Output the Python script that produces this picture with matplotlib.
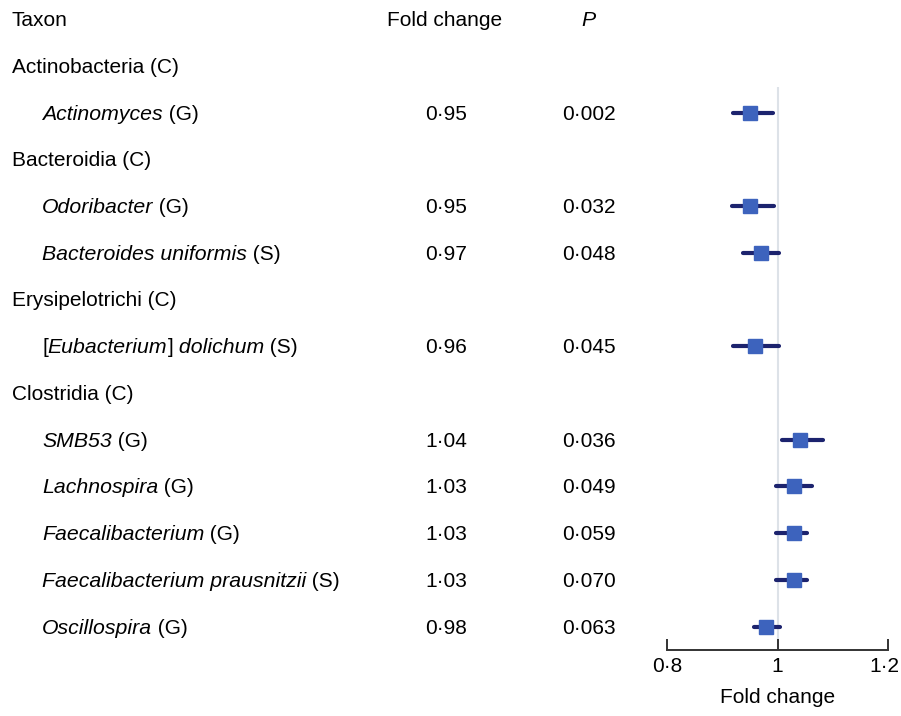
import matplotlib
matplotlib.use("Agg")
import matplotlib.pyplot as plt
from matplotlib.transforms import blended_transform_factory, ScaledTranslation

plt.rcParams['font.family'] = ['Liberation Sans', 'DejaVu Sans']

# class name, then the taxa belonging to it
classes = ["Actinobacteria (C)", "Bacteroidia (C)", "Erysipelotrichi (C)", "Clostridia (C)"]
class_of = [0, 1, 1, 2, 3, 3, 3, 3, 3]
# (text, italic) pieces for each taxon label
taxa = [
    [("Actinomyces", True), (" (G)", False)],
    [("Odoribacter", True), (" (G)", False)],
    [("Bacteroides uniformis", True), (" (S)", False)],
    [("[", False), ("Eubacterium", True), ("]", False), (" dolichum", True), (" (S)", False)],
    [("SMB53", True), (" (G)", False)],
    [("Lachnospira", True), (" (G)", False)],
    [("Faecalibacterium", True), (" (G)", False)],
    [("Faecalibacterium prausnitzii", True), (" (S)", False)],
    [("Oscillospira", True), (" (G)", False)],
]
fold = [0.95, 0.95, 0.97, 0.96, 1.04, 1.03, 1.03, 1.03, 0.98]
p_vals = ["0·002", "0·032", "0·048", "0·045", "0·036", "0·049", "0·059", "0·070", "0·063"]
ci_low = [0.919, 0.918, 0.937, 0.919, 1.008, 0.998, 0.998, 0.998, 0.958]
ci_high = [0.991, 0.993, 1.002, 1.002, 1.083, 1.063, 1.054, 1.054, 1.004]
ticks = [0.8, 1.0, 1.2]
tick_labels = ["0·8", "1", "1·2"]

W, H = 901, 716
fs = 15.0
fs_it = 15.3
fig = plt.figure(figsize=(W / 100, H / 100), dpi=100)
ax = fig.add_axes([667 / W, 1 - 650 / H, (888 - 667) / W, 650 / H])

# build row positions: header row 0, class rows and taxon rows after
rows_taxa = []
rows_class = []
r = 1
prev = -1
for i, c in enumerate(class_of):
    if c != prev:
        rows_class.append(r)
        r += 1
        prev = c
    rows_taxa.append(r)
    r += 1

ax.set_xlim(0.8, 1.2)
ax.set_ylim(13.5, -0.407)

for s in ["top", "right", "left"]:
    ax.spines[s].set_visible(False)
ax.spines["bottom"].set_color("#333333")
ax.spines["bottom"].set_linewidth(1.4)
ax.set_yticks([])
ax.set_xticks(ticks)
ax.set_xticklabels(tick_labels, fontsize=fs)
ax.tick_params(axis="x", direction="in", length=8, width=1.4, color="#333333", pad=5)
ax.set_xlabel("Fold change", fontsize=fs, labelpad=9)
# last tick label sits on the right edge, nudge it in a bit
last = ax.get_xticklabels()[-1]
last.set_transform(last.get_transform() + ScaledTranslation(-4 / 100, 0, fig.dpi_scale_trans))

ax.vlines(1.0, 1.45, 13.5, color="#dde2e8", linewidth=1.5, zorder=1)

ax.hlines(rows_taxa, ci_low, ci_high, color="#1c236e", linewidth=3,
          capstyle="round", zorder=2)
ax.plot(fold, rows_taxa, "s", color="#3d63bd", markersize=10, zorder=3,
        linestyle="none")

tr = blended_transform_factory(fig.transFigure, ax.transData)
# baseline offset so the text is centred on its row
base = 0.15
renderer = fig.canvas.get_renderer()


def label(x_px, row, s, size=fs, **kw):
    return ax.text(x_px / W, row + base, s, transform=tr, fontsize=size,
                   va="baseline", **kw)


def rich(x_px, row, parts):
    x = x_px
    for s, it in parts:
        if it:
            t = label(x, row, s, size=fs_it, ha="left", style="italic")
        else:
            t = label(x, row, s, ha="left")
        x += t.get_window_extent(renderer).width


label(12, 0, "Taxon", ha="left")
label(445, 0, "Fold change", ha="center")
label(588, 0, "P", size=fs_it, ha="center", style="italic")

for name, row in zip(classes, rows_class):
    label(12, row, name, ha="left")

for parts, row, f, p in zip(taxa, rows_taxa, fold, p_vals):
    rich(42, row, parts)
    label(446, row, f"{f:.2f}".replace(".", "·"), ha="center")
    label(589, row, p, ha="center")

fig.savefig("out.png", dpi=100)
